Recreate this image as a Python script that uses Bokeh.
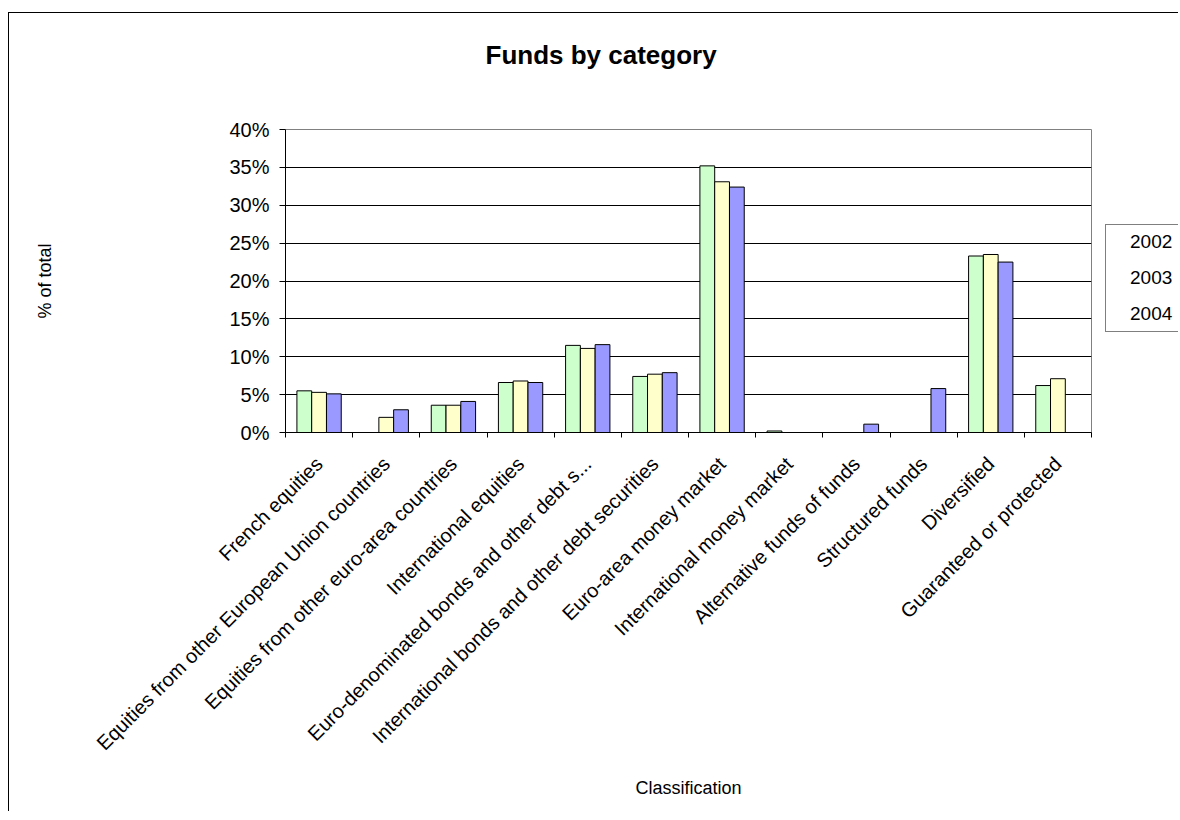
import numpy as np
from math import pi
from bokeh.plotting import figure
from bokeh.layouts import row
from bokeh.models import (Range1d, FixedTicker, PrintfTickFormatter, CustomJSTickFormatter,
                          Legend, LegendItem, Title, ColumnDataSource, LinearAxis)
from bokeh.embed import file_html
from bokeh.resources import INLINE

nan = np.nan

# ---------------- data ----------------
categories = [
    "French equities",
    "Equities from other European Union countries",
    "Equities from other euro-area countries",
    "International equities",
    "Euro-denominated bonds and other debt s...",
    "International bonds and other debt securities",
    "Euro-area money market",
    "International money market",
    "Alternative funds of funds",
    "Structured funds",
    "Diversified",
    "Guaranteed or protected",
]
years = ["2002", "2003", "2004"]
share_2002 = [5.5, nan, 3.6, 6.6, 11.5, 7.4, 35.2, 0.2, nan, nan, 23.3, 6.2]
share_2003 = [5.3, 2.0, 3.6, 6.8, 11.1, 7.7, 33.1, nan, nan, nan, 23.5, 7.1]
share_2004 = [5.1, 3.0, 4.1, 6.6, 11.6, 7.9, 32.4, nan, 1.1, 5.8, 22.5, nan]
y_ticks = [0, 5, 10, 15, 20, 25, 30, 35, 40]
title_text = "Funds by category"
x_title = "Classification"
y_title = "% of total"

# ---------------- style ----------------
FONT = "Liberation Sans"
colors = ["#CCFFCC", "#FFFFCC", "#9999FF"]
offsets = [-0.22, 0.0, 0.22]
BAR_W = 0.22
H = 798

n = len(categories)
idx = np.arange(n)
centers = (idx + 0.5).tolist()
bounds = list(range(n + 1))

p = figure(width=1090, height=H,
           x_range=Range1d(0, n),
           y_range=Range1d(y_ticks[0], y_ticks[-1]),
           output_backend="svg", toolbar_location=None,
           min_border_left=276, min_border_right=8,
           min_border_top=116, min_border_bottom=379)
p.outline_line_color = "#808080"
p.outline_line_width = 1
p.background_fill_color = "white"
p.border_fill_color = "white"

xa = p.below[0]
ya = p.left[0]

# invisible spacer between plot area and title (white tick on white, no labels)
spacer = LinearAxis(ticker=FixedTicker(ticks=[0]), axis_line_color=None,
                    major_tick_line_color="white", minor_tick_line_color=None,
                    major_tick_out=55, major_tick_in=0, minor_tick_out=0,
                    major_label_standoff=0, major_label_text_font_size="0px",
                    formatter=CustomJSTickFormatter(code="return ''"))
p.add_layout(spacer, "above")

# title
p.title = Title(text=title_text, align="left", offset=200, standoff=10,
                vertical_align="bottom", text_font=FONT, text_font_size="26px",
                text_font_style="bold", text_color="black")

# y axis
ya.ticker = FixedTicker(ticks=y_ticks)
ya.formatter = PrintfTickFormatter(format="%d%%")
ya.major_tick_out = 6
ya.major_tick_in = 0
ya.minor_tick_line_color = None
ya.axis_line_color = "black"
ya.major_tick_line_color = "black"
ya.major_label_text_font = FONT
ya.major_label_text_font_size = "20px"
ya.major_label_text_color = "black"
ya.major_label_standoff = 10
ya.axis_label = y_title
ya.axis_label_text_font = FONT
ya.axis_label_text_font_size = "18px"
ya.axis_label_text_font_style = "normal"
ya.axis_label_text_color = "black"
ya.axis_label_standoff = 171
p.ygrid.grid_line_color = "black"
p.ygrid.grid_line_width = 1
p.xgrid.grid_line_color = None

# x axis: labels at category centres, separator ticks at boundaries
xa.ticker = FixedTicker(ticks=centers, minor_ticks=bounds)
xa.formatter = CustomJSTickFormatter(args=dict(names=categories),
                                     code="return names[Math.floor(tick)]")
xa.major_tick_line_color = None
xa.major_tick_out = 0
xa.major_tick_in = 0
xa.minor_tick_line_color = "black"
xa.minor_tick_out = 5
xa.minor_tick_in = 0
xa.axis_line_color = "black"
xa.major_label_orientation = pi / 4
xa.major_label_standoff = 23
xa.major_label_text_font = FONT
xa.major_label_text_font_size = "20px"
xa.major_label_text_color = "black"
xa.axis_label = x_title
xa.axis_label_text_font = FONT
xa.axis_label_text_font_size = "18px"
xa.axis_label_text_font_style = "normal"
xa.axis_label_text_color = "black"
xa.axis_label_standoff = 13

# bars
src = ColumnDataSource(dict(y2002=np.array(share_2002, dtype=float),
                            y2003=np.array(share_2003, dtype=float),
                            y2004=np.array(share_2004, dtype=float)))
for yr, col, off in zip(years, colors, offsets):
    src.data["x" + yr] = idx + 0.5 + off
    p.vbar(x="x" + yr, top="y" + yr, width=BAR_W,
           source=src, fill_color=col, line_color="black", line_width=1)

# legend panel (separate small canvas to the right of the plot area;
# its frame is aligned with the main plot area by the row layout)
lf = figure(width=79, height=H, x_range=Range1d(0, 1), y_range=Range1d(0, 1),
            x_axis_location=None, y_axis_location=None,
            output_backend="svg", toolbar_location=None, min_border=0)
lf.center = []
lf.outline_line_color = None
lf.background_fill_color = "white"
lf.border_fill_color = "white"
items = []
for yr, col in zip(years, colors):
    r = lf.vbar(x=[], top=[], width=BAR_W, fill_color=col,
                line_color="black", line_width=1)
    items.append(LegendItem(label=yr, renderers=[r]))
legend = Legend(items=items, location=(6, 100), orientation="vertical",
                border_line_color="black", border_line_width=1,
                background_fill_color="white", background_fill_alpha=1,
                padding=6, spacing=14, margin=0,
                label_height=20, glyph_height=13, glyph_width=13,
                label_standoff=5, label_text_font=FONT,
                label_text_font_size="19px", label_text_color="black")
lf.add_layout(legend, "center")

layout = row(p, lf)
layout.styles = {"border-left": "1px solid black", "border-top": "1px solid black",
                 "margin-top": "12px", "margin-left": "8px"}

open("out.html", "w").write(file_html(layout, INLINE))
